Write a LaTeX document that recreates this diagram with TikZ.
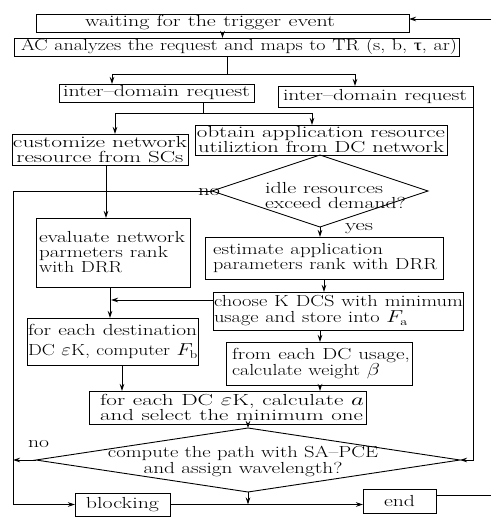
\documentclass[tikz,border=0pt]{standalone}
\usepackage{fontspec}
\usepackage{graphicx}
\newfontfamily\grk{Liberation Serif}
\usetikzlibrary{shapes.geometric,arrows.meta}
\newcommand\fsz{\fontsize{16}{15}\selectfont}
\newcommand\fw[2]{\resizebox{#1pt}{\height}{#2}}
\begin{document}
\begin{tikzpicture}[x=1pt,y=-1pt,
  every node/.style={font=\fsz, outer sep=0pt},
  box/.style={draw, line width=0.9pt, inner sep=0pt, anchor=north west, align=center},
  lbox/.style={draw, line width=0.9pt, inner ysep=0pt, anchor=north west, align=left},
  dia/.style={draw, diamond, line width=0.9pt, inner sep=0pt},
  lab/.style={inner sep=0pt, anchor=west},
  ln/.style={line width=0.9pt},
  arr/.style={line width=0.9pt, -{Stealth[length=7pt,width=4.5pt]}}]
\useasboundingbox (0,0) rectangle (491,519);
% boxes
\node[lbox, inner xsep=49pt, text width=275pt, minimum height=18pt] (b1) at (36,14) {\fw{250}{waiting for the trigger event}};
\node[lbox, inner xsep=7pt, text width=431pt, minimum height=18pt] (b2) at (14,38) {\fw{436}{AC analyzes the request and maps to TR (s, b, {\grk τ}, ar)}};
\node[lbox, inner xsep=4pt, text width=187pt, minimum height=18pt] (b3) at (59,84) {\fw{187}{inter--domain request}};
\node[lbox, inner xsep=5pt, text width=185pt, minimum height=21pt] (b4) at (278,86) {\fw{184}{inter--domain request}};
\node[box, minimum width=176pt, minimum height=31pt] (b5) at (12,134) {\fw{174}{customize network}\\\fw{167}{resource from SCs}};
\node[box, minimum width=252pt, minimum height=30pt] (b6) at (195,125) {\fw{248}{obtain application resource}\\\fw{246}{utiliztion from DC network}};
\node[dia, minimum width=216pt, minimum height=72pt] (d1) at (320,191) {};
\node[lab, align=left] (t1) at (265,195.5) {\fw{118}{idle resources}\\\fw{141}{exceed demand?}};
\node[lbox, inner xsep=3pt, text width=148pt, minimum height=69pt] (b7) at (36,218) {\fw{146}{evaluate network}\\\fw{129}{parmeters rank}\\\fw{83}{with DRR}};
\node[lbox, inner xsep=8pt, text width=222pt, minimum height=42pt] (b8) at (205,237) {\fw{170}{estimate application}\\\fw{224}{parameters rank with DRR}};
\node[lbox, inner xsep=1pt, text width=248pt, minimum height=38pt] (b9) at (213,292) {\fw{249}{choose K DCS with minimum}\\[1pt]\fw{194}{usage and store into $F_{\mathrm{a}}$}};
\node[lbox, inner xsep=1pt, text width=169pt, minimum height=47pt] (b10) at (27,318) {\fw{169}{for each destination}\\[5pt]\fw{170}{DC $\varepsilon$K, computer $F_{\mathrm{b}}$}};
\node[lbox, inner xsep=6pt, text width=174pt, minimum height=43pt, font=\fontsize{16}{14}\selectfont] (b11) at (226,342) {\fw{178}{from each DC usage,}\\\fw{148}{calculate weight $\beta$}};
\node[lbox, inner xsep=11pt, text width=255pt, minimum height=33pt] (b12) at (89,391) {\fw{264}{for each DC $\varepsilon$K, calculate $a$}\\\fw{263}{and select the minimum one}};
\node[dia, minimum width=424pt, minimum height=64pt] (d2) at (248,460) {};
\node[inner sep=0pt, align=center, font=\fontsize{16}{13.5}\selectfont] (t2) at (243,461.5) {\fw{270}{compute the path with SA--PCE}\\\fw{199}{and assign wavelength?}};
\node[box, minimum width=95pt, minimum height=23pt] (b13) at (75,493) {\fw{73}{blocking}};
\node[box, minimum width=73pt, minimum height=24pt] (b14) at (363,489) {\fw{31}{end}};
% labels
\node[lab] (no1) at (198,192) {\fw{22}{no}};
\node[lab] (yes) at (345,229) {\fw{28}{yes}};
\node[lab] (no2) at (28,444) {\fw{21}{no}};
% helper coordinates
\coordinate (rin) at (491,19);
\coordinate (j1) at (227,74);
\coordinate (ja) at (112,0);
\coordinate (jb) at (355,0);
\coordinate (j2) at (203,113);
\coordinate (jc) at (115,0);
\coordinate (jd) at (312,0);
\coordinate (xe) at (106,0);
\coordinate (L) at (13,0);
\coordinate (c9) at (213,300);
\coordinate (c9e) at (111,300);
\coordinate (x110) at (110,0);
\coordinate (x122) at (122,0);
\coordinate (x320) at (320,0);
\coordinate (ei) at (436,495);
\coordinate (eo) at (491,495);
% connectors
\draw[arr] (rin) -- (rin -| b1.east);
\draw[arr] (b1.south) -- (b1.south |- b2.north);
\draw[ln] (b2.south -| j1) -- (j1);
\draw[arr] (j1) -| (b3.north -| ja);
\draw[arr] (j1) -| (b4.north -| jb);
\draw[ln] (b3.south -| j2) -- (j2);
\draw[arr] (j2) -| (b5.north -| jc);
\draw[arr] (j2) -| (b6.north -| jd);
\draw[arr] (b4.south east) |- (d2.east);
\draw[arr] (b5.south -| xe) -- (b7.north -| xe);
\draw[arr] (d1.south) -- (d1.south |- b8.north);
\draw[arr] (d1.west) -- (d1.west -| L) |- (b13.west);
\draw[arr] (b8.south) -- (b8.south |- b9.north);
\draw[arr] (c9) -- (c9e);
\draw[arr] (b7.south -| x110) -- (b10.north -| x110);
\draw[arr] (b9.south -| x320) -- (b11.north -| x320);
\draw[arr] (b10.south -| x122) -- (b12.north -| x122);
\draw[arr] (b11.south -| x320) -- (b12.north -| x320);
\draw[arr] (d2.north |- b12.south) -- (d2.north);
\draw[arr] (d2.west) -- (d2.west -| L);
\draw[arr] (d2.south) -- (d2.south |- b13.east);
\draw[arr] (b13.east) -- (b13.east -| b14.west);
\draw[ln] (ei) -- (eo);
\end{tikzpicture}
\end{document}
